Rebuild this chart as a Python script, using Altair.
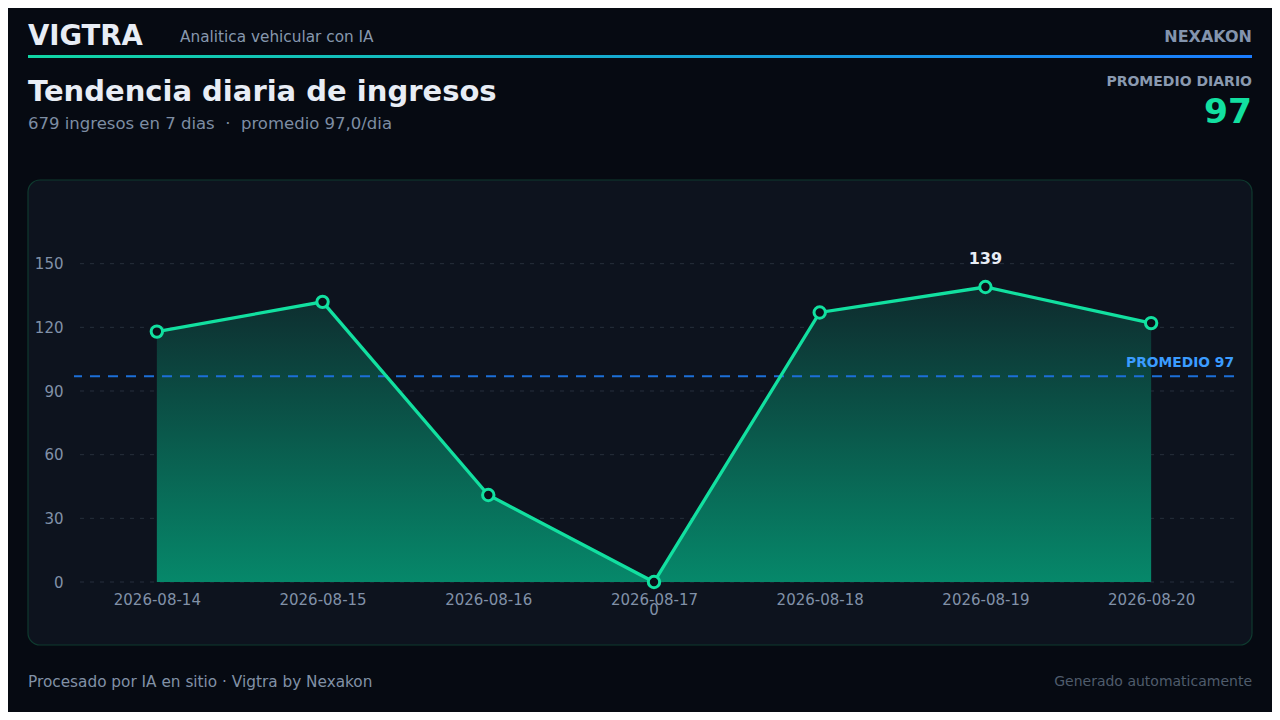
import altair as alt
import pandas as pd

# ---- data ----
fechas = ["2026-08-14", "2026-08-15", "2026-08-16", "2026-08-17",
          "2026-08-18", "2026-08-19", "2026-08-20"]
ingresos = [118, 132, 41, 0, 127, 139, 122]
promedio = 97.0
y_ticks = [0, 30, 60, 90, 120, 150]

FONT = "DejaVu Sans"
BG = "#060a12"
PANEL = "#0d131e"
PANEL_STROKE = "#0f3a2f"
LINE = "#12e0a0"
MUTED = "#8191a8"
WHITE = "#e8edf5"

df = pd.DataFrame({"fecha": fechas, "ingresos": ingresos})
grid_df = pd.DataFrame({"ingresos": y_ticks})
one = alt.Data(values=[{"k": 0}])

W, H = 1160, 382

x_axis = alt.Axis(title=None, labelAngle=0, labelPadding=10, domain=False, ticks=False,
                  grid=False, labelFont=FONT, labelFontSize=15, labelColor=MUTED, zindex=1)
y_axis = alt.Axis(title=None, values=y_ticks, labelPadding=11, domain=False, ticks=False,
                  grid=False, labelFont=FONT, labelFontSize=15, labelColor=MUTED, zindex=1)

x_enc = alt.X("fecha:O", scale=alt.Scale(type="point", padding=0.5), axis=x_axis)
y_scale = alt.Scale(domain=[0, 180], nice=False)
y_enc = alt.Y("ingresos:Q", scale=y_scale, axis=y_axis)

# ---- decoration ----
panel = alt.Chart(one).mark_rect(
    fill=PANEL, stroke=PANEL_STROKE, strokeWidth=1.2, cornerRadius=12
).encode(x=alt.value(-46), x2=alt.value(1178), y=alt.value(-20), y2=alt.value(445))

header_line = alt.Chart(one).mark_rect(
    color=alt.Gradient(
        gradient="linear",
        stops=[alt.GradientStop(color="#10d6a4", offset=0),
               alt.GradientStop(color="#1a7cff", offset=1)],
        x1=0, x2=1, y1=0, y2=0)
).encode(x=alt.value(-46), x2=alt.value(1178), y=alt.value(-145), y2=alt.value(-142))


def txt(text, x, y, size, color, weight="normal", align="left"):
    return alt.Chart(one).mark_text(
        text=text, font=FONT, fontSize=size, fontWeight=weight, color=color,
        align=align, baseline="alphabetic"
    ).encode(x=alt.value(x), y=alt.value(y))


NB = "\u00a0"
texts = [
    txt("VIGTRA", -46, -155, 27.5, WHITE, "bold"),
    txt("Analitica vehicular con IA", 106, -158, 15.3, "#8798ae"),
    txt("NEXAKON", 1178, -158, 16, "#8394ad", "bold", "right"),
    txt("Tendencia diaria de ingresos", -46, -99, 29, WHITE, "bold"),
    txt("679 ingresos en 7 dias" + NB + " \u00b7 " + NB + "promedio 97,0/dia", -46, -71, 16.5, "#7d8da3"),
    txt("PROMEDIO DIARIO", 1178, -114, 14, "#8a9ab0", "bold", "right"),
    txt("97", 1178, -77, 34.5, LINE, "bold", "right"),
    txt("Procesado por IA en sitio \u00b7 Vigtra by Nexakon", -46, 487, 15.3, "#8191a6"),
    txt("Generado automaticamente", 1178, 486, 14, "#4f5c6c", "normal", "right"),
]

# ---- chart layers ----
grid = alt.Chart(grid_df).mark_rule(
    color="#262f3c", strokeWidth=1, strokeDash=[4, 6]
).encode(y=y_enc)

base = alt.Chart(df).encode(x=x_enc, y=y_enc)

area = base.mark_area(
    color=alt.Gradient(
        gradient="linear",
        stops=[alt.GradientStop(color="#0e2a2d", offset=0),
               alt.GradientStop(color="#06886a", offset=1)],
        x1=1, x2=1, y1=0, y2=1)
)

avg_rule = alt.Chart(one).mark_rule(
    color="#1c6fd8", strokeWidth=2, strokeDash=[10, 8]
).encode(y=alt.Y(datum=promedio, scale=y_scale, axis=y_axis))

avg_label = alt.Chart(one).mark_text(
    text="PROMEDIO 97", font=FONT, fontSize=13.8, fontWeight="bold",
    color="#3b9cff", align="right", baseline="alphabetic", dy=-9
).encode(x=alt.value(W), y=alt.Y(datum=promedio, scale=y_scale, axis=y_axis))

line = base.mark_line(color=LINE, strokeWidth=3.3)

points = base.mark_point(
    shape="circle", size=130, filled=True, fill="#0a0f18",
    stroke=LINE, strokeWidth=3, opacity=1
)

max_label = base.transform_joinaggregate(
    mx="max(ingresos)"
).transform_filter("datum.ingresos == datum.mx").mark_text(
    font=FONT, fontSize=16, fontWeight="bold", color=WHITE,
    baseline="alphabetic", dy=-23
).encode(text="ingresos:Q")

min_label = base.transform_joinaggregate(
    mn="min(ingresos)"
).transform_filter("datum.ingresos == datum.mn").mark_text(
    font=FONT, fontSize=15, color=MUTED, baseline="top", dy=21
).encode(text="ingresos:Q")

chart = alt.layer(
    panel, header_line, *texts, grid, area, avg_rule, avg_label,
    line, points, max_label, min_label
).properties(
    width=W, height=H,
    padding={"left": 66, "top": 192, "right": 38, "bottom": 130},
    autosize=alt.AutoSizeParams(type="none"),
    background=BG,
).configure_view(
    stroke=None
)

chart.save("out.html", embed_options={"renderer": "svg", "actions": False})
